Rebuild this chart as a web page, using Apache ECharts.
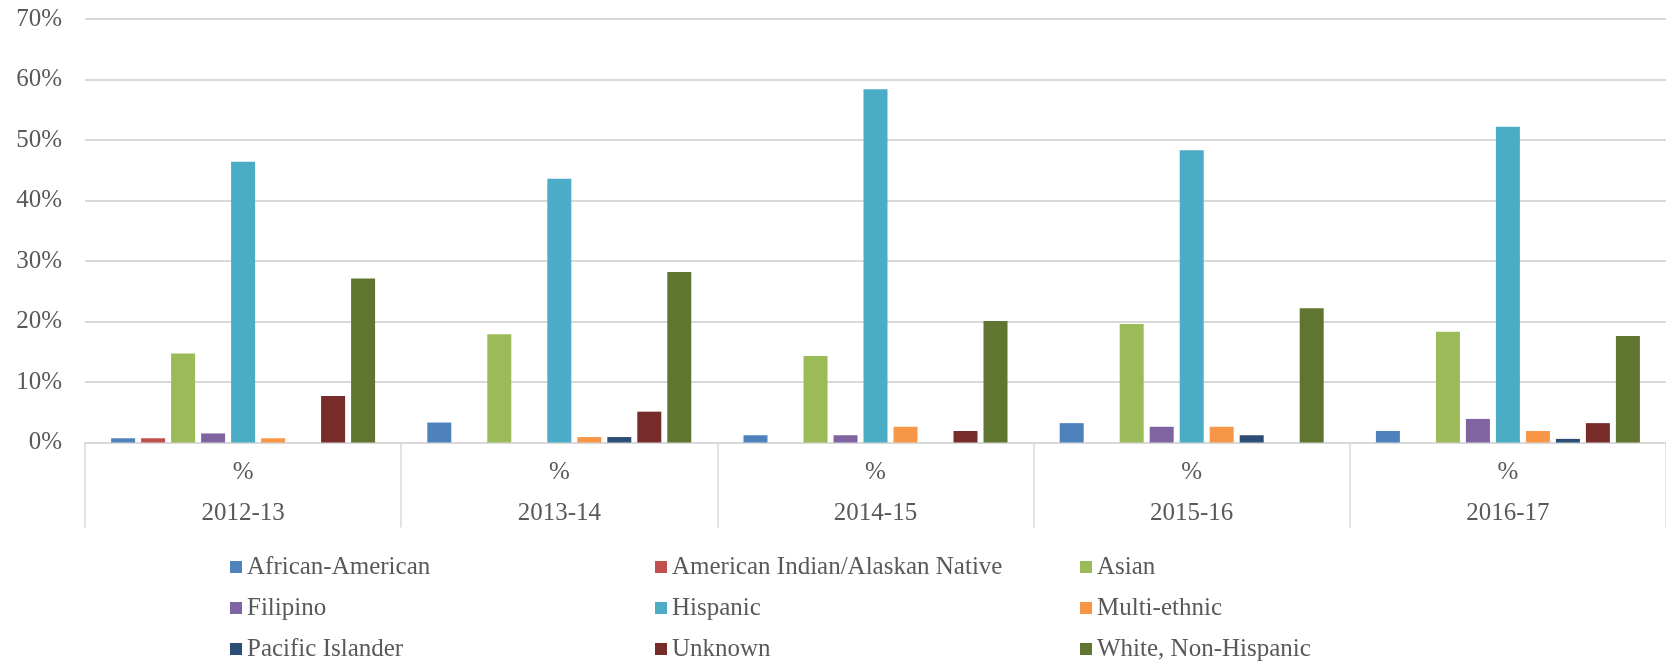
<!DOCTYPE html>
<html>
<head>
<meta charset="utf-8">
<script src="https://cdn.jsdelivr.net/npm/echarts@6/dist/echarts.min.js"></script>
<style>
html,body{margin:0;padding:0;background:#fff;}
#chart{width:1666px;height:663px;}
</style>
</head>
<body>
<div id="chart"></div>
<script>
const years = ['2012-13', '2013-14', '2014-15', '2015-16', '2016-17'];
const subLabels = ['%', '%', '%', '%', '%'];
const yTicks = [0, 10, 20, 30, 40, 50, 60, 70];

const seriesNames = [
  'African-American', 'American Indian/Alaskan Native', 'Asian',
  'Filipino', 'Hispanic', 'Multi-ethnic',
  'Pacific Islander', 'Unknown', 'White, Non-Hispanic'
];
const africanAmerican = [0.7, 3.3, 1.2, 3.2, 1.9];
const americanIndian = [0.7, 0, 0, 0, 0];
const asian = [14.7, 17.9, 14.3, 19.6, 18.3];
const filipino = [1.5, 0, 1.2, 2.6, 3.9];
const hispanic = [46.4, 43.6, 58.4, 48.3, 52.2];
const multiEthnic = [0.7, 0.9, 2.6, 2.6, 1.9];
const pacificIslander = [0, 0.9, 0, 1.2, 0.6];
const unknown = [7.7, 5.1, 1.9, 0, 3.2];
const whiteNonHispanic = [27.1, 28.2, 20.1, 22.2, 17.6];

const seriesValues = [africanAmerican, americanIndian, asian, filipino, hispanic,
  multiEthnic, pacificIslander, unknown, whiteNonHispanic];
const colors = ['#4F81BD', '#C0504D', '#9BBB59', '#8064A2', '#4BACC6',
  '#F79646', '#2C4D75', '#772C2A', '#5F7530'];

const FONT = '"Liberation Serif", serif';
const TXT = '#595959';
const GRIDC = '#d9d9d9';
const FS = 25;

const chart = echarts.init(document.getElementById('chart'));

function makeLegend(left, names) {
  return {
    orient: 'vertical', left: left, top: 554.5, padding: 0,
    itemWidth: 12, itemHeight: 12, itemGap: 16, icon: 'rect',
    data: names,
    textStyle: { fontFamily: FONT, fontSize: FS, lineHeight: 25, color: TXT }
  };
}

chart.setOption({
  animation: false,
  color: colors,
  textStyle: { fontFamily: FONT, color: TXT },
  grid: { left: 85, right: -5, top: 19, bottom: 220.5, containLabel: false },
  legend: [
    makeLegend(230, [seriesNames[0], seriesNames[3], seriesNames[6]]),
    makeLegend(655, [seriesNames[1], seriesNames[4], seriesNames[7]]),
    makeLegend(1080, [seriesNames[2], seriesNames[5], seriesNames[8]])
  ],
  xAxis: [
    {
      type: 'category', data: subLabels, position: 'bottom',
      axisLine: { show: true, lineStyle: { color: GRIDC, width: 2 } },
      axisTick: { show: true, length: 85, lineStyle: { color: GRIDC, width: 1.5 } },
      axisLabel: { fontFamily: FONT, fontSize: FS, color: TXT, margin: 17 },
      splitLine: { show: false }
    },
    {
      type: 'category', data: years, position: 'bottom', offset: 41,
      axisLine: { show: false }, axisTick: { show: false },
      axisLabel: { fontFamily: FONT, fontSize: FS, color: TXT, margin: 17 },
      splitLine: { show: false }
    }
  ],
  yAxis: {
    type: 'value', min: yTicks[0], max: yTicks[yTicks.length - 1], interval: 10,
    axisLine: { show: false }, axisTick: { show: false },
    axisLabel: { fontFamily: FONT, fontSize: FS, color: TXT, margin: 23, formatter: '{value}%' },
    splitLine: { lineStyle: { color: GRIDC, width: 2 } }
  },
  series: seriesNames.map((name, i) => ({
    name: name, type: 'bar', xAxisIndex: 0,
    data: seriesValues[i],
    barWidth: 24, barGap: '25%',
    itemStyle: { color: colors[i] }
  }))
});
</script>
</body>
</html>
